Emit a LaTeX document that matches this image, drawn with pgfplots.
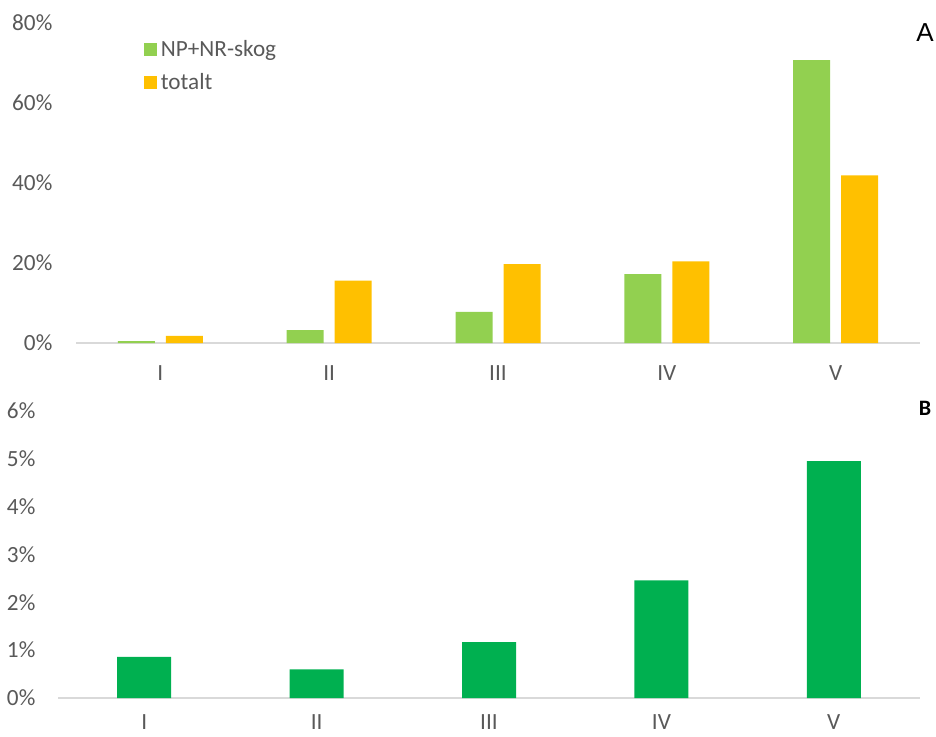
\documentclass[border=0pt]{standalone}
\usepackage{pgfplots}
\pgfplotsset{compat=1.18}
\usepackage{fontspec}
\setmainfont{Carlito}
\newfontfamily\arialfont{Liberation Sans}
\definecolor{lgreen}{HTML}{92D050}
\definecolor{orng}{HTML}{FFC000}
\definecolor{dgreen}{HTML}{00B050}
\definecolor{axgray}{HTML}{D9D9D9}
\definecolor{txtgray}{HTML}{595959}
\pgfplotsset{
  base/.style={
    scale only axis,
    anchor=south west,
    axis x line*=bottom,
    axis y line*=left,
    x axis line style={draw=axgray, line width=0.8pt, -},
    y axis line style={draw=none},
    major tick length=0pt,
    xmin=-0.5, xmax=4.5,
    xtick={0,1,2,3,4},
    xticklabels={I,II,III,IV,V},
    ymin=0,
    tick label style={font=\fontsize{11.6}{13.9}\selectfont, text=txtgray},
    clip=false,
  }
}
\begin{document}
\begin{tikzpicture}[x=1pt,y=1pt]
\useasboundingbox (0,0) rectangle (468,368);
\begin{axis}[base,
  at={(38pt,196.5pt)}, width=422pt, height=160pt,
  ymax=80, ytick={0,20,40,60,80},
  yticklabels={0\%,20\%,40\%,60\%,80\%},
  xticklabel style={yshift=-8pt},
  yticklabel style={xshift=-8.3pt},
  ybar=5.5pt, bar width=18.5pt,
  legend style={at={(0.08,0.96)}, anchor=north west, draw=none, fill=none,
    inner sep=0pt, font=\fontsize{11.6}{13.9}\selectfont, text=txtgray,
    legend cell align=left, row sep=3pt},
  legend image code/.code={\fill[#1] (0pt,-3.25pt) rectangle (6.5pt,3.25pt);},
]
\addplot[draw=none, fill=lgreen] coordinates {(0,0.5) (1,3.2) (2,7.8) (3,17.2) (4,70.7)};
\addplot[draw=none, fill=orng] coordinates {(0,1.8) (1,15.6) (2,19.7) (3,20.4) (4,41.9)};
\legend{NP+NR-skog, totalt}
\end{axis}
\begin{axis}[base,
  at={(29pt,19pt)}, width=431pt, height=143.5pt,
  ymax=6, ytick={0,1,2,3,4,5,6},
  yticklabels={0\%,1\%,2\%,3\%,4\%,5\%,6\%},
  xticklabel style={yshift=-5pt},
  yticklabel style={xshift=-7.8pt},
  ybar, bar width=27pt,
]
\addplot[draw=none, fill=dgreen] coordinates {(0,0.86) (1,0.6) (2,1.17) (3,2.46) (4,4.95)};
\end{axis}
\node at (462.5pt,351.5pt) {\arialfont\fontsize{13}{15}\selectfont A};
\node at (462.5pt,164pt) {\fontsize{11}{13}\selectfont\bfseries B};
\end{tikzpicture}
\end{document}
